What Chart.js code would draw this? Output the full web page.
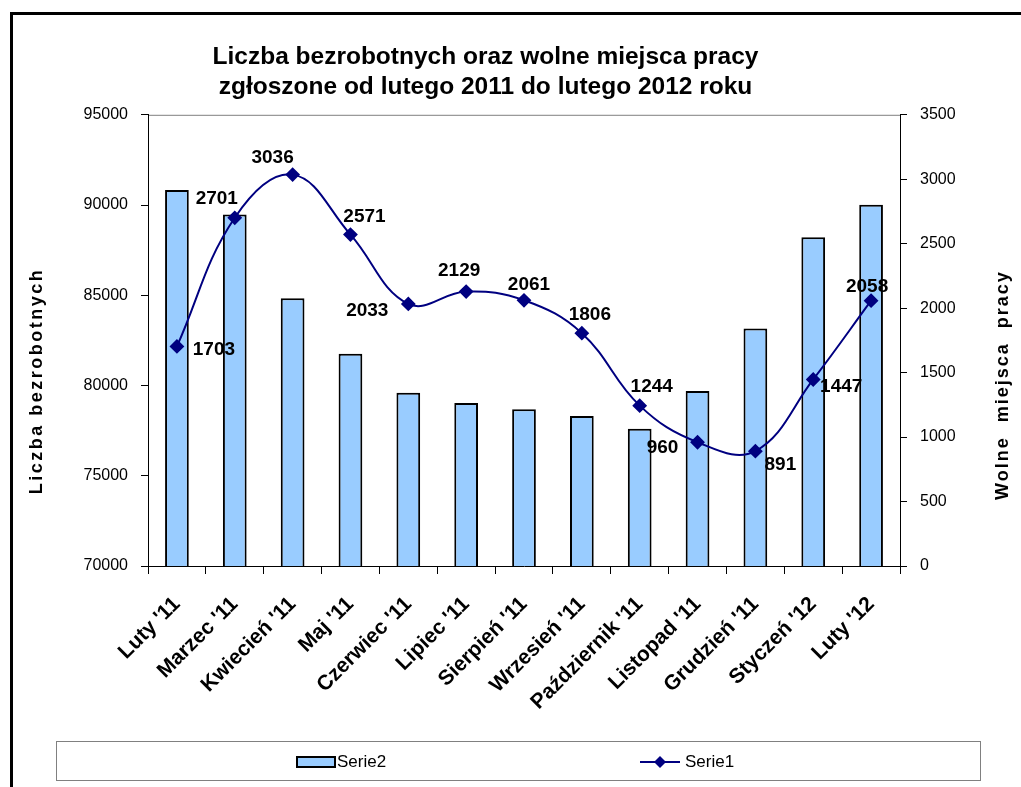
<!DOCTYPE html>
<html>
<head>
<meta charset="utf-8">
<script src="https://cdn.jsdelivr.net/npm/chart.js@4/dist/chart.umd.min.js"></script>
<style>
  html, body { margin: 0; padding: 0; background: #fff; overflow: hidden; }
  canvas { display: block; }
</style>
</head>
<body>
<canvas id="chart" width="1021" height="787"></canvas>
<script>
const months = ["Luty '11", "Marzec '11", "Kwiecień '11", "Maj '11", "Czerwiec '11", "Lipiec '11",
  "Sierpień '11", "Wrzesień '11", "Październik '11", "Listopad '11", "Grudzień '11", "Styczeń '12", "Luty '12"];
// liczba bezrobotnych (słupki)
const serie2 = [90840, 89470, 84840, 81760, 79600, 79030, 78680, 78310, 77600, 79700, 83160, 88210, 90020];
// wolne miejsca pracy (linia)
const serie1 = [1703, 2701, 3036, 2571, 2033, 2129, 2061, 1806, 1244, 960, 891, 1447, 2058];
const leftTicks = [70000, 75000, 80000, 85000, 90000, 95000];
const rightTicks = [0, 500, 1000, 1500, 2000, 2500, 3000, 3500];

const FONT = "'Liberation Sans', Arial, sans-serif";
// przesunięcia etykiet danych względem punktu
const labelShift = [[37, 3], [-18, -19], [-20, -17], [14, -18], [-41, 7], [-7, -21], [5, -16],
  [8, -18], [12, -19], [-35, 6], [25, 14], [28, 7], [-4, -14]];

const extras = {
  id: 'extras',
  beforeDraw(chart) {
    const { ctx, chartArea: a } = chart;
    ctx.save();
    ctx.fillStyle = '#fff';
    ctx.fillRect(0, 0, chart.width, chart.height);
    // ramka
    ctx.strokeStyle = '#000';
    ctx.lineWidth = 3;
    ctx.strokeRect(11.5, 13.5, chart.width + 20, chart.height + 20);
    // górna krawędź obszaru wykresu
    ctx.strokeStyle = '#808080';
    ctx.lineWidth = 1;
    ctx.beginPath();
    ctx.moveTo(a.left, a.top + 0.5);
    ctx.lineTo(a.right, a.top + 0.5);
    ctx.stroke();
    ctx.restore();
  },
  afterDraw(chart) {
    const { ctx } = chart;
    ctx.save();
    // tytuły osi
    ctx.fillStyle = '#000';
    ctx.font = 'bold 18px ' + FONT;
    ctx.textAlign = 'center';
    ctx.textBaseline = 'middle';
    ctx.letterSpacing = '2.5px';
    ctx.save();
    ctx.translate(37, 381);
    ctx.rotate(-Math.PI / 2);
    ctx.fillText('Liczba bezrobotnych', 0, 0);
    ctx.restore();
    ctx.letterSpacing = '2px';
    ctx.save();
    ctx.translate(1003, 385);
    ctx.rotate(-Math.PI / 2);
    ctx.fillText('Wolne  miejsca  pracy', 0, 0);
    ctx.restore();
    ctx.letterSpacing = '0px';

    // etykiety danych
    const meta = chart.getDatasetMeta(1);
    ctx.font = 'bold 19px ' + FONT;
    meta.data.forEach((pt, i) => {
      const [dx, dy] = labelShift[i];
      ctx.fillText(String(serie1[i]), pt.x + dx, pt.y + dy);
    });

    // legenda
    ctx.strokeStyle = '#808080';
    ctx.lineWidth = 1;
    ctx.strokeRect(56.5, 741.5, 924, 39);
    const ly = 762;
    ctx.fillStyle = '#99ccff';
    ctx.fillRect(297, 757, 38, 10);
    ctx.strokeStyle = '#000';
    ctx.lineWidth = 2;
    ctx.strokeRect(297, 757, 38, 10);
    ctx.font = '17px ' + FONT;
    ctx.fillStyle = '#000';
    ctx.textAlign = 'left';
    ctx.fillText(chart.data.datasets[0].label, 337, ly);
    ctx.strokeStyle = '#000080';
    ctx.beginPath();
    ctx.moveTo(640, ly);
    ctx.lineTo(680, ly);
    ctx.stroke();
    ctx.fillStyle = '#000080';
    ctx.beginPath();
    ctx.moveTo(660, ly - 6);
    ctx.lineTo(666, ly);
    ctx.lineTo(660, ly + 6);
    ctx.lineTo(654, ly);
    ctx.closePath();
    ctx.fill();
    ctx.fillStyle = '#000';
    ctx.fillText(chart.data.datasets[1].label, 685, ly);
    ctx.restore();
  }
};

new Chart(document.getElementById('chart'), {
  type: 'bar',
  data: {
    labels: months,
    datasets: [{
      type: 'bar',
      label: 'Serie2',
      data: serie2,
      yAxisID: 'y',
      backgroundColor: '#99ccff',
      borderColor: '#000',
      borderWidth: 2,
      categoryPercentage: 1,
      barPercentage: 0.41,
      order: 2
    }, {
      type: 'line',
      label: 'Serie1',
      data: serie1,
      yAxisID: 'y1',
      borderColor: '#000080',
      backgroundColor: '#000080',
      borderWidth: 2,
      tension: 0.4,
      pointStyle: 'rectRot',
      pointRadius: 6,
      pointBackgroundColor: '#000080',
      pointBorderColor: '#000080',
      order: 1
    }]
  },
  options: {
    responsive: false,
    animation: false,
    layout: { padding: { left: 0, right: 50, top: 0, bottom: 0 } },
    plugins: {
      legend: { display: false },
      tooltip: { enabled: false },
      title: {
        display: true,
        text: ['Liczba bezrobotnych oraz wolne miejsca pracy', 'zgłoszone od lutego 2011 do lutego 2012 roku'],
        color: '#000',
        font: { family: FONT, size: 24.5, weight: 'bold' },
        padding: { top: 43, bottom: 13 }
      }
    },
    scales: {
      x: {
        grid: { display: true, drawOnChartArea: false, offset: true, tickLength: 8, color: '#000' },
        border: { display: true, color: '#000', width: 1 },
        ticks: {
          color: '#000',
          font: { family: FONT, size: 21, weight: 'bold' },
          maxRotation: 45,
          minRotation: 45,
          autoSkip: false,
          padding: 18,
          labelOffset: 0
        },
        afterFit(scale) { scale.height = 221; }
      },
      y: {
        position: 'left',
        min: 70000,
        max: 95000,
        afterBuildTicks(scale) { scale.ticks = leftTicks.map(v => ({ value: v })); },
        grid: { drawOnChartArea: false, tickLength: 7, color: '#000' },
        border: { display: true, color: '#000', width: 1 },
        ticks: {
          color: '#000',
          font: { family: FONT, size: 16 },
          padding: 13,
          callback: v => String(v)
        },
        afterFit(scale) { scale.width = 148; }
      },
      y1: {
        position: 'right',
        min: 0,
        max: 3500,
        afterBuildTicks(scale) { scale.ticks = rightTicks.map(v => ({ value: v })); },
        grid: { drawOnChartArea: false, tickLength: 7, color: '#000' },
        border: { display: true, color: '#000', width: 1 },
        ticks: {
          color: '#000',
          font: { family: FONT, size: 16 },
          padding: 13,
          callback: v => String(v)
        },
        afterFit(scale) { scale.width = 71; }
      }
    }
  },
  plugins: [extras]
});
</script>
</body>
</html>
